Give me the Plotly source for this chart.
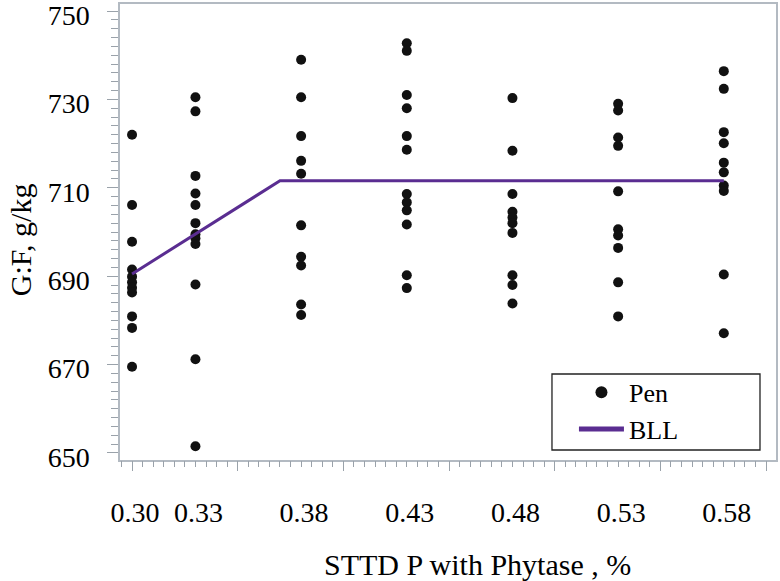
import plotly.graph_objects as go

# ---- data ----
x_levels = [0.30, 0.33, 0.38, 0.43, 0.48, 0.53, 0.58]
x_ticktext = ["0.30", "0.33", "0.38", "0.43", "0.48", "0.53", "0.58"]

gf_030 = [722.0, 706.1, 697.8, 691.5, 689.9, 688.6, 687.4, 686.3, 680.9, 678.3, 669.5]
gf_033 = [730.5, 727.3, 712.7, 708.7, 706.1, 702.0, 699.5, 698.6, 697.3, 688.1, 671.2, 651.5]
gf_038 = [739.0, 730.5, 721.7, 716.1, 713.2, 701.5, 694.4, 692.4, 683.6, 681.2]
gf_043 = [742.7, 741.0, 731.0, 728.0, 721.7, 718.6, 708.6, 706.7, 704.9, 701.7, 690.2, 687.3]
gf_048 = [730.3, 718.4, 708.6, 704.6, 703.3, 702.0, 699.8, 690.2, 688.0, 683.8]
gf_053 = [729.0, 727.5, 721.4, 719.5, 709.2, 700.6, 699.2, 696.4, 688.6, 680.9]
gf_058 = [736.4, 732.4, 722.6, 720.1, 715.7, 713.5, 710.5, 709.3, 690.4, 677.1]

bll_x = [0.30, 0.370, 0.58]
bll_y = [690.5, 711.6, 711.6]

y_ticks = [650, 670, 690, 710, 730, 750]

# ---- build pen-level arrays ----
groups = [gf_030, gf_033, gf_038, gf_043, gf_048, gf_053, gf_058]
pen_x, pen_y = [], []
for xv, vals in zip(x_levels, groups):
    pen_x += [xv] * len(vals)
    pen_y += vals

FONT = "Liberation Serif, Times New Roman, serif"
AXC = "#b3bac2"
TKC = "#9aa2aa"
XR = [0.2943, 0.6047]
YR = [648.4, 751.6]

fig = go.Figure()
fig.add_trace(go.Scatter(
    x=pen_x, y=pen_y, mode="markers", name="Pen",
    marker=dict(color="#111111", size=10, line=dict(width=0)),
    xaxis="x", yaxis="y",
))
fig.add_trace(go.Scatter(
    x=bll_x, y=bll_y, mode="lines", name="BLL",
    line=dict(color="#5a2d91", width=3),
    xaxis="x2", yaxis="y",
))

fig.update_layout(
    width=780, height=581,
    margin=dict(l=120, r=4, t=4, b=121, autoexpand=False),
    paper_bgcolor="white", plot_bgcolor="white",
    font=dict(family=FONT, size=28, color="black"),
    showlegend=True,
    legend=dict(
        x=0.692, xanchor="left", y=0.200, yanchor="top",
        bgcolor="rgba(0,0,0,0)", borderwidth=0,
        font=dict(family=FONT, size=26, color="black"),
        itemsizing="constant", itemwidth=45, tracegroupgap=0,
    ),
    xaxis=dict(
        range=XR, tickmode="array", tickvals=x_levels, ticktext=x_ticktext,
        ticks="", ticklabelstandoff=27, ticklabelshift=3,
        showgrid=False, zeroline=False,
        showline=True, linecolor=AXC, linewidth=1.5, mirror=True,
        automargin=False, ticklabeloverflow="allow",
        tickfont=dict(family=FONT, size=28, color="black"),
    ),
    xaxis2=dict(
        range=XR, overlaying="x", anchor="y", side="bottom",
        tickmode="linear", tick0=0.30, dtick=0.05,
        ticks="outside", ticklen=10, tickwidth=1, tickcolor=TKC,
        showticklabels=False, showgrid=False, zeroline=False, showline=False,
        automargin=False,
        minor=dict(ticks="outside", tickmode="linear", tick0=0.30, dtick=0.005,
                   ticklen=6, tickwidth=1, tickcolor=TKC, showgrid=False),
    ),
    yaxis=dict(
        range=YR, tickmode="array", tickvals=y_ticks,
        ticks="outside", ticklen=11, tickwidth=1, tickcolor=TKC,
        ticklabelstandoff=12, ticklabelshift=4,
        showgrid=False, zeroline=False,
        showline=True, linecolor=AXC, linewidth=1.5, mirror=True,
        automargin=False, ticklabeloverflow="allow",
        tickfont=dict(family=FONT, size=28, color="black"),
        minor=dict(ticks="outside", tickmode="linear", tick0=650, dtick=2,
                   ticklen=7, tickwidth=1, tickcolor=TKC, showgrid=False),
    ),
    shapes=[dict(type="rect", xref="paper", yref="paper",
                 x0=0.6585, x1=0.9756, y0=0.0219, y1=0.1886,
                 line=dict(color="#222222", width=1.3), fillcolor="rgba(0,0,0,0)")],
    annotations=[
        dict(text="STTD P with Phytase , %", xref="paper", yref="paper",
             x=0.5457, y=-0.230, xanchor="center", yanchor="middle",
             showarrow=False, font=dict(family=FONT, size=30, color="black")),
        dict(text="G:F, g/kg", xref="paper", yref="paper",
             x=-0.1524, y=0.482, xanchor="center", yanchor="middle", textangle=-90,
             showarrow=False, font=dict(family=FONT, size=30, color="black")),
    ],
)

fig.write_html("out.html", config={"displayModeBar": False},
               post_script="document.body.style.margin='0';document.body.style.padding='0';")
